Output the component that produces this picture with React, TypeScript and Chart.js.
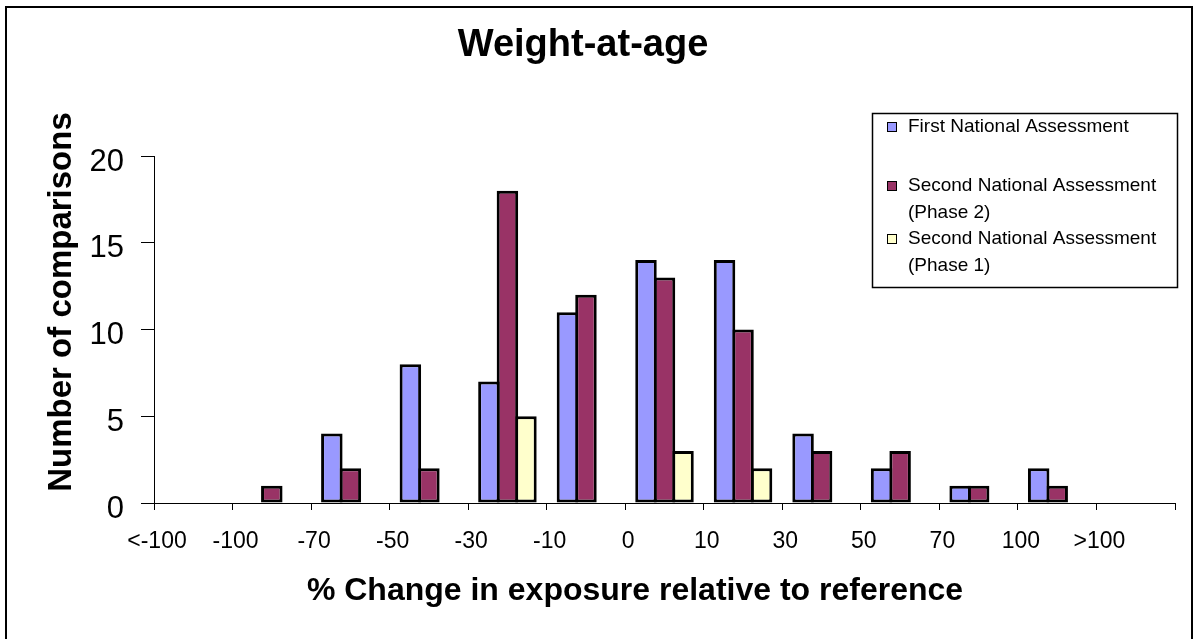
import { useEffect, useRef } from "react";
import { Chart, registerables } from "chart.js";

Chart.register(...registerables);

const categories = ["<-100", "-100", "-70", "-50", "-30", "-10", "0", "10", "30", "50", "70", "100", ">100"];
const firstNational = [null, null, 4, 8, 7, 11, 14, 14, 4, 2, 1, 2, null];
const secondPhase2 = [null, 1, 2, 2, 18, 12, 13, 10, 3, 3, 1, 1, null];
const secondPhase1 = [null, null, null, null, 5, null, 3, 2, null, null, null, null, null];
const seriesNames = [
  "First National Assessment",
  "Second National Assessment (Phase 2)",
  "Second National Assessment (Phase 1)",
];
const seriesColors = ["#9999FF", "#993366", "#FFFFCC"];
const chartTitle = "Weight-at-age";
const yTitle = "Number of comparisons";
const xTitle = "% Change in exposure relative to reference";

const FONT = "'Liberation Sans', Arial, sans-serif";

const decorPlugin = {
  id: "decor",
  beforeDraw(chart: any) {
    const ctx = chart.ctx;
    ctx.save();
    ctx.fillStyle = "#fff";
    ctx.fillRect(0, 0, chart.width, chart.height);
    ctx.strokeStyle = "#000";
    ctx.lineWidth = 2;
    ctx.strokeRect(6, 7, 1186, 700);
    ctx.restore();
  },
  afterDraw(chart: any) {
    const ctx = chart.ctx;
    ctx.save();
    ctx.fillStyle = "#000";
    ctx.textAlign = "center";
    ctx.textBaseline = "middle";
    ctx.font = `bold 38px ${FONT}`;
    ctx.fillText(chartTitle, 583, 46);

    ctx.font = `bold 32px ${FONT}`;
    ctx.fillText(xTitle, 635, 591);

    ctx.save();
    ctx.translate(62, 302);
    ctx.rotate(-Math.PI / 2);
    ctx.font = `bold 33px ${FONT}`;
    ctx.fillText(yTitle, 0, 0);
    ctx.restore();

    // legend
    ctx.strokeStyle = "#000";
    ctx.lineWidth = 1.5;
    ctx.strokeRect(872.5, 113.5, 305, 174);
    const entryY = [127, 186, 239];
    ctx.font = `19px ${FONT}`;
    ctx.textAlign = "left";
    chart.data.datasets.forEach((ds: any, i: number) => {
      const y = entryY[i];
      ctx.fillStyle = ds.backgroundColor;
      ctx.fillRect(887, y - 5, 10, 10);
      ctx.lineWidth = 1;
      ctx.strokeRect(887.5, y - 4.5, 9, 9);
      ctx.fillStyle = "#000";
      const lines = String(ds.label).replace(" (", "\n(").split("\n");
      lines.forEach((ln: string, k: number) => {
        ctx.fillText(ln, 908, y + k * 26.5);
      });
    });
    ctx.restore();
  },
};

export default function App() {
  const ref = useRef<HTMLCanvasElement | null>(null);
  useEffect(() => {
    if (!ref.current) return;
    const datasets = [firstNational, secondPhase2, secondPhase1].map((d, i) => ({
      label: seriesNames[i],
      data: d,
      backgroundColor: seriesColors[i],
      borderColor: "#000",
      borderWidth: 3,
      borderSkipped: false,
      categoryPercentage: 0.707,
      barPercentage: 1.162,
      xAxisID: "x",
      yAxisID: "y",
    }));
    const chart = new Chart(ref.current, {
      type: "bar",
      data: { labels: categories, datasets },
      options: {
        animation: false,
        responsive: false,
        devicePixelRatio: 1,
        layout: { padding: { left: 0, right: 23, top: 156, bottom: 0 } },
        plugins: { legend: { display: false }, title: { display: false }, tooltip: { enabled: false } },
        scales: {
          x: { type: "category", display: false, offset: true },
          xl: {
            type: "linear",
            position: "bottom",
            offset: false,
            min: 0,
            max: 13,
            ticks: {
              stepSize: 1,
              autoSkip: false,
              maxRotation: 0,
              color: "#000",
              padding: 18,
              labelOffset: 3,
              font: { family: FONT, size: 23 },
              callback: (v: any) => categories[Number(v)] ?? "",
            },
            grid: { offset: false, drawOnChartArea: false, drawTicks: true, tickLength: 7, color: "#000", lineWidth: 1 },
            border: { display: true, color: "#000", width: 1 },
            afterFit: (s: any) => {
              s.height = 136;
            },
          },
          y: {
            type: "linear",
            min: 0,
            max: 20,
            ticks: {
              stepSize: 5,
              color: "#000",
              padding: 17,
              labelOffset: 6,
              font: { family: FONT, size: 31 },
            },
            grid: { drawOnChartArea: false, drawTicks: true, tickLength: 13, color: "#000", lineWidth: 1 },
            border: { display: true, color: "#000", width: 1 },
            afterFit: (s: any) => {
              s.width = 154;
            },
          },
        },
      } as any,
      plugins: [decorPlugin],
    });
    return () => chart.destroy();
  }, []);
  return (
    <div style={{ position: "absolute", left: 0, top: 0, width: 1198, height: 639 }}>
      <canvas ref={ref} width={1198} height={639} />
    </div>
  );
}
